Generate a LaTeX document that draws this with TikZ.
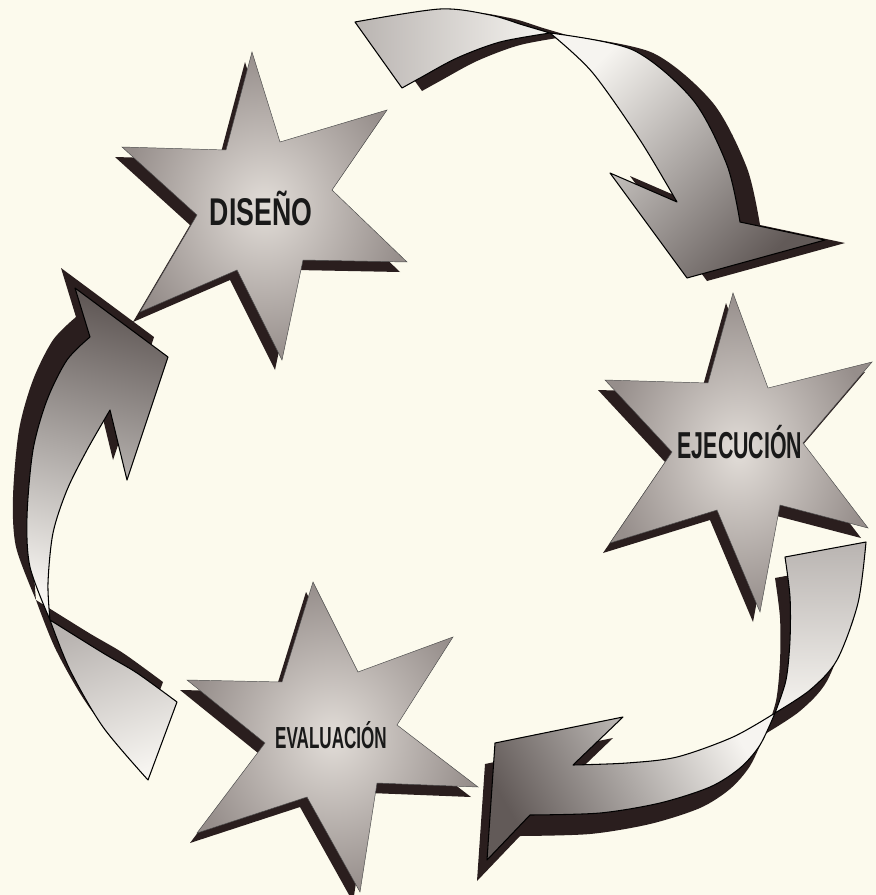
\documentclass[tikz,border=0pt]{standalone}
\usepackage{fontspec}
\newfontfamily\labelfont{Liberation Sans}
\usepackage{tikz}
\usetikzlibrary{shadings}
\definecolor{paper}{RGB}{252,250,237}
\definecolor{shadowcol}{RGB}{42,30,30}
\definecolor{starlight}{RGB}{226,221,216}
\definecolor{stardark}{RGB}{150,142,139}
\definecolor{arrowlight}{RGB}{246,244,240}
\definecolor{arrowdark}{RGB}{98,90,88}
\definecolor{tailgray}{RGB}{185,180,177}
\tikzset{
  shadowfill/.style={fill=shadowcol},
  starfill/.style={inner color=starlight, outer color=stardark, draw=black!70, line width=0.4pt},
  rim/.style={draw=black, line width=0.9pt, line join=round},
  tailA/.style={rim, left color=tailgray, right color=arrowlight},
  bodyA/.style={rim, top color=arrowlight, bottom color=arrowdark, shading angle=45},
  tailB/.style={rim, top color=tailgray, bottom color=arrowlight},
  bodyB/.style={rim, top color=arrowlight, bottom color=arrowdark, shading angle=-60},
  tailC/.style={rim, top color=tailgray, bottom color=arrowlight, shading angle=20},
  bodyC/.style={rim, top color=arrowdark, bottom color=arrowlight, shading angle=-15},
  lbl/.style={anchor=base, text=black!90, inner sep=0pt}
}
\begin{document}
\begin{tikzpicture}[x=0.03cm, y=-0.03cm]
\path[use as bounding box, fill=paper] (0,0) rectangle (876,895);
% arrows
\foreach \dx/\dy/\ta/\ba in {20/3/shadowfill/shadowfill, 0/0/tailA/bodyA} {
  \path[\ta, shift={(\dx,\dy)}] plot[smooth] coordinates {(355,22) (440,9) (490,15) (523,25) (550,33)}
    -- plot[smooth] coordinates {(550,33) (500,42) (457,58) (420,78) (402,88)} -- cycle;
  \path[\ba, shift={(\dx,\dy)}] plot[smooth] coordinates {(550,33) (633,50) (693,100) (727,165) (740,222)}
    -- (825,240) -- (687,278) -- (610,173) -- (677,202)
    -- plot[smooth] coordinates {(677,202) (640,140) (592,72) (550,33)} -- cycle;
}
\foreach \dx/\dy/\ta/\ba in {-10/21/shadowfill/shadowfill, 0/0/tailB/bodyB} {
  \path[\ta, shift={(\dx,\dy)}] plot[smooth] coordinates {(785,557) (790,597) (790,640) (786,680) (775,713)}
    -- plot[smooth] coordinates {(775,713) (810,690) (837,660) (858,603) (866,542)} -- cycle;
  \path[\ba, shift={(\dx,\dy)}] plot[smooth] coordinates {(775,713) (733,737) (677,757) (627,763) (573,765)}
    -- (623,717) -- (495,743) -- (487,860) -- (530,815)
    -- plot[smooth] coordinates {(530,815) (600,813) (660,803) (710,787) (740,768) (760,745) (775,713)} -- cycle;
}
\foreach \dx/\dy/\ta/\ba in {-14/-20/shadowfill/shadowfill, 0/0/tailC/bodyC} {
  \path[\ta, shift={(\dx,\dy)}] (177,702) -- (148,780)
    -- plot[smooth] coordinates {(148,780) (103,727) (70,670) (50,620)}
    -- plot[smooth] coordinates {(50,620) (103,653) (137,673) (177,702)} -- cycle;
  \path[\ba, shift={(\dx,\dy)}] plot[smooth] coordinates {(50,620) (30,567) (27,517) (33,450) (47,400) (67,360) (90,337)}
    -- (75,288) -- (168,357) -- (127,480) -- (110,410)
    -- plot[smooth] coordinates {(110,410) (87,450) (67,490) (53,533) (48,583) (50,620)} -- cycle;
}
% stars
\foreach \dx/\dy/\sty in {-7/10/shadowfill, 0/0/starfill} {
  \path[\sty, shift={(\dx,\dy)}] (252,52) -- (280,142) -- (387,110) -- (332,190) -- (407,262) -- (303,260)
    -- (282,360) -- (237,270) -- (140,312) -- (197,215) -- (122,147) -- (226,150) -- cycle;
  \path[\sty, shift={(\dx,\dy)}] (733,293) -- (768,388) -- (872,362) -- (803,443) -- (868,528) -- (780,505)
    -- (760,612) -- (717,510) -- (610,543) -- (672,452) -- (605,380) -- (708,383) -- cycle;
  \path[\sty, shift={(\dx,\dy)}] (313,582) -- (358,672) -- (453,637) -- (397,725) -- (478,787) -- (377,783)
    -- (360,892) -- (307,797) -- (197,833) -- (265,743) -- (187,680) -- (282,682) -- cycle;
}
\node[lbl, font=\labelfont\bfseries\fontsize{33}{33}\selectfont\addfontfeature{FakeStretch=0.69}] (diseno) at (261,225) {DISEÑO};
\node[lbl, font=\labelfont\bfseries\fontsize{32}{32}\selectfont\addfontfeature{FakeStretch=0.57}] (ejecucion) at (740,458) {EJECUCIÓN};
\node[lbl, font=\labelfont\bfseries\fontsize{26}{26}\selectfont\addfontfeature{FakeStretch=0.56}] (evaluacion) at (331,748) {EVALUACIÓN};
\end{tikzpicture}
\end{document}
